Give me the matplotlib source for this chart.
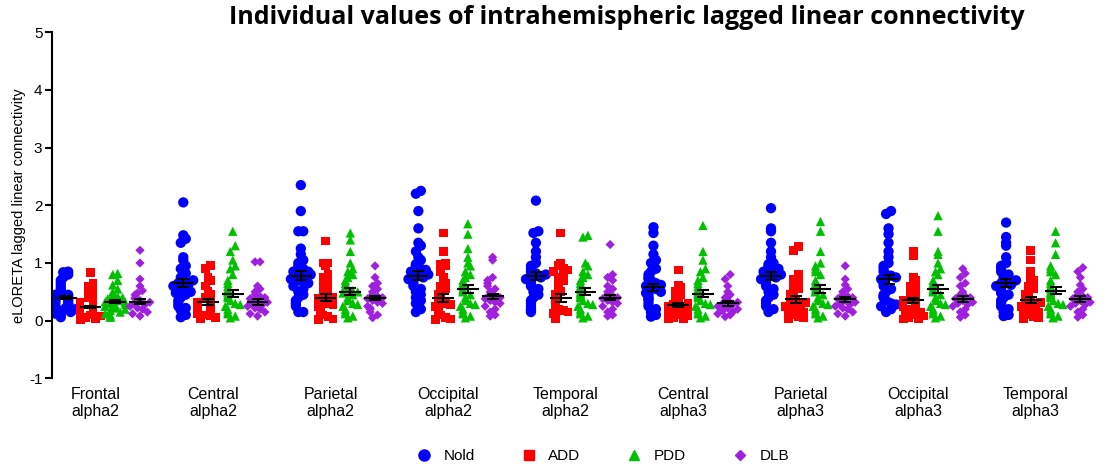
import numpy as np
import matplotlib
matplotlib.use("Agg")
import matplotlib.pyplot as plt
from matplotlib.lines import Line2D

plt.rcParams["font.family"] = ["Liberation Sans", "DejaVu Sans"]
plt.rcParams["axes.unicode_minus"] = False

groups = ["Frontal\nalpha2", "Central\nalpha2", "Parietal\nalpha2", "Occipital\nalpha2", "Temporal\nalpha2",
          "Central\nalpha3", "Parietal\nalpha3", "Occipital\nalpha3", "Temporal\nalpha3"]
series = ["Nold", "ADD", "PDD", "DLB"]

nold = [
    [0.85, 0.84, 0.8, 0.75, 0.7, 0.65, 0.6, 0.55, 0.5, 0.48, 0.45, 0.42, 0.4, 0.38, 0.36, 0.33, 0.3, 0.28, 0.25, 0.22, 0.2, 0.17, 0.15, 0.12, 0.1, 0.08, 0.06, 0.35, 0.45, 0.3],
    [2.05, 1.48, 1.42, 1.35, 1.1, 1.05, 0.95, 0.9, 0.82, 0.75, 0.7, 0.65, 0.6, 0.58, 0.55, 0.5, 0.48, 0.45, 0.4, 0.35, 0.3, 0.25, 0.22, 0.18, 0.1, 0.06, 0.62, 0.7],
    [2.35, 1.9, 1.55, 1.55, 1.25, 1.15, 1.05, 1.0, 0.95, 0.9, 0.85, 0.82, 0.8, 0.75, 0.72, 0.7, 0.65, 0.6, 0.55, 0.5, 0.45, 0.4, 0.35, 0.3, 0.25, 0.15, 0.15, 0.85, 0.68, 0.78],
    [2.25, 2.2, 1.9, 1.6, 1.35, 1.3, 1.2, 1.1, 1.05, 0.98, 0.95, 0.9, 0.85, 0.8, 0.78, 0.75, 0.7, 0.65, 0.6, 0.55, 0.5, 0.45, 0.4, 0.35, 0.3, 0.2, 0.15, 0.72, 0.82, 0.88],
    [2.08, 1.55, 1.52, 1.35, 1.2, 1.1, 1.0, 0.95, 0.9, 0.85, 0.8, 0.78, 0.75, 0.7, 0.65, 0.6, 0.55, 0.5, 0.45, 0.4, 0.35, 0.3, 0.25, 0.2, 0.18, 0.15, 0.72, 0.82],
    [1.62, 1.52, 1.3, 1.15, 1.05, 1.0, 0.9, 0.85, 0.8, 0.75, 0.7, 0.65, 0.6, 0.58, 0.55, 0.5, 0.48, 0.45, 0.4, 0.38, 0.35, 0.3, 0.25, 0.2, 0.15, 0.1, 0.07, 0.62, 0.72],
    [1.95, 1.6, 1.55, 1.35, 1.2, 1.1, 1.0, 0.98, 0.95, 0.9, 0.85, 0.8, 0.78, 0.75, 0.72, 0.7, 0.65, 0.6, 0.55, 0.5, 0.45, 0.4, 0.35, 0.3, 0.25, 0.2, 0.15, 0.82, 0.9],
    [1.9, 1.85, 1.6, 1.5, 1.35, 1.2, 1.1, 1.0, 0.95, 0.9, 0.85, 0.8, 0.75, 0.7, 0.65, 0.6, 0.55, 0.5, 0.45, 0.42, 0.4, 0.35, 0.3, 0.28, 0.25, 0.2, 0.15, 0.72, 0.78],
    [1.7, 1.45, 1.35, 1.3, 1.1, 1.0, 0.95, 0.9, 0.85, 0.8, 0.75, 0.7, 0.65, 0.6, 0.55, 0.5, 0.48, 0.45, 0.4, 0.35, 0.3, 0.25, 0.2, 0.15, 0.1, 0.08, 0.62, 0.7],
]
add = [
    [0.83, 0.65, 0.6, 0.55, 0.5, 0.45, 0.4, 0.35, 0.32, 0.3, 0.28, 0.25, 0.22, 0.2, 0.18, 0.15, 0.12, 0.1, 0.08, 0.05, 0.03, 0.02, 0.25, 0.15],
    [0.95, 0.9, 0.75, 0.7, 0.6, 0.5, 0.45, 0.4, 0.35, 0.32, 0.3, 0.28, 0.25, 0.22, 0.2, 0.18, 0.15, 0.12, 0.1, 0.08, 0.05, 0.03, 0.3, 0.2],
    [1.38, 1.0, 1.0, 0.95, 0.8, 0.75, 0.7, 0.6, 0.55, 0.5, 0.45, 0.4, 0.38, 0.35, 0.3, 0.28, 0.25, 0.2, 0.18, 0.15, 0.1, 0.07, 0.03, 0.02, 0.4],
    [1.52, 1.2, 1.0, 0.98, 0.95, 0.85, 0.75, 0.65, 0.6, 0.55, 0.5, 0.45, 0.4, 0.35, 0.3, 0.28, 0.25, 0.2, 0.18, 0.15, 0.1, 0.06, 0.03, 0.02, 0.42],
    [1.52, 1.0, 0.95, 0.9, 0.88, 0.85, 0.8, 0.75, 0.7, 0.6, 0.5, 0.45, 0.4, 0.35, 0.3, 0.25, 0.2, 0.18, 0.15, 0.12, 0.08, 0.05, 0.03, 0.4],
    [0.88, 0.62, 0.58, 0.5, 0.45, 0.4, 0.35, 0.3, 0.28, 0.25, 0.22, 0.2, 0.18, 0.15, 0.12, 0.1, 0.08, 0.06, 0.04, 0.03, 0.25],
    [1.28, 1.22, 0.8, 0.72, 0.65, 0.6, 0.55, 0.5, 0.45, 0.4, 0.35, 0.32, 0.3, 0.28, 0.25, 0.2, 0.18, 0.15, 0.12, 0.1, 0.07, 0.05, 0.03, 0.38],
    [1.2, 1.12, 0.75, 0.7, 0.6, 0.55, 0.5, 0.45, 0.4, 0.35, 0.32, 0.3, 0.28, 0.25, 0.2, 0.18, 0.15, 0.12, 0.1, 0.08, 0.06, 0.04, 0.03, 0.35],
    [1.22, 1.05, 0.85, 0.75, 0.7, 0.6, 0.55, 0.5, 0.45, 0.4, 0.35, 0.32, 0.3, 0.28, 0.25, 0.2, 0.18, 0.15, 0.12, 0.1, 0.07, 0.05, 0.03, 0.38],
]
pdd = [
    [0.82, 0.8, 0.7, 0.62, 0.55, 0.5, 0.45, 0.42, 0.4, 0.38, 0.35, 0.32, 0.3, 0.28, 0.25, 0.22, 0.2, 0.18, 0.15, 0.12, 0.1, 0.08, 0.06, 0.33, 0.27],
    [1.55, 1.3, 1.2, 1.05, 0.95, 0.9, 0.8, 0.7, 0.65, 0.6, 0.55, 0.5, 0.45, 0.42, 0.4, 0.35, 0.3, 0.28, 0.25, 0.2, 0.15, 0.12, 0.08, 0.05, 0.5],
    [1.52, 1.4, 1.2, 1.0, 0.9, 0.85, 0.8, 0.75, 0.7, 0.65, 0.6, 0.55, 0.5, 0.48, 0.45, 0.4, 0.35, 0.3, 0.28, 0.25, 0.2, 0.15, 0.12, 0.08, 0.05, 0.52],
    [1.68, 1.5, 1.25, 1.1, 1.0, 0.95, 0.85, 0.8, 0.75, 0.7, 0.65, 0.6, 0.55, 0.52, 0.5, 0.45, 0.4, 0.35, 0.3, 0.28, 0.25, 0.2, 0.15, 0.12, 0.08, 0.05],
    [1.48, 1.45, 1.0, 0.95, 0.85, 0.8, 0.75, 0.7, 0.65, 0.6, 0.55, 0.5, 0.48, 0.45, 0.42, 0.4, 0.35, 0.3, 0.28, 0.25, 0.2, 0.15, 0.12, 0.08, 0.05],
    [1.65, 1.2, 1.05, 0.9, 0.85, 0.75, 0.7, 0.65, 0.6, 0.55, 0.5, 0.48, 0.45, 0.42, 0.4, 0.35, 0.3, 0.28, 0.25, 0.2, 0.15, 0.12, 0.08, 0.05],
    [1.72, 1.55, 1.2, 1.0, 0.95, 0.9, 0.85, 0.8, 0.7, 0.65, 0.6, 0.55, 0.52, 0.5, 0.45, 0.4, 0.35, 0.3, 0.28, 0.25, 0.2, 0.15, 0.12, 0.08, 0.05],
    [1.82, 1.55, 1.2, 1.15, 1.0, 0.9, 0.85, 0.8, 0.7, 0.65, 0.6, 0.55, 0.52, 0.5, 0.45, 0.4, 0.35, 0.3, 0.28, 0.25, 0.2, 0.15, 0.12, 0.08, 0.05],
    [1.55, 1.35, 1.15, 0.95, 0.9, 0.85, 0.8, 0.7, 0.65, 0.6, 0.55, 0.5, 0.48, 0.45, 0.42, 0.4, 0.35, 0.3, 0.28, 0.25, 0.2, 0.15, 0.12, 0.08, 0.05],
]
dlb = [
    [1.22, 1.0, 0.72, 0.6, 0.52, 0.48, 0.45, 0.4, 0.38, 0.35, 0.32, 0.3, 0.28, 0.25, 0.22, 0.2, 0.15, 0.12, 0.08],
    [1.02, 1.02, 0.6, 0.55, 0.5, 0.45, 0.42, 0.4, 0.38, 0.35, 0.32, 0.3, 0.28, 0.25, 0.22, 0.2, 0.15, 0.12, 0.08],
    [0.95, 0.75, 0.65, 0.6, 0.55, 0.5, 0.45, 0.42, 0.4, 0.38, 0.35, 0.32, 0.3, 0.25, 0.22, 0.2, 0.15, 0.1, 0.05],
    [1.1, 1.05, 0.75, 0.7, 0.65, 0.6, 0.55, 0.5, 0.45, 0.42, 0.4, 0.38, 0.35, 0.32, 0.3, 0.25, 0.2, 0.15, 0.1, 0.08],
    [1.32, 0.8, 0.75, 0.7, 0.6, 0.55, 0.5, 0.45, 0.42, 0.4, 0.38, 0.35, 0.32, 0.3, 0.25, 0.2, 0.15, 0.1, 0.08],
    [0.8, 0.72, 0.6, 0.5, 0.45, 0.4, 0.35, 0.32, 0.3, 0.28, 0.25, 0.22, 0.2, 0.18, 0.15, 0.12, 0.1, 0.07],
    [0.95, 0.72, 0.62, 0.55, 0.5, 0.45, 0.42, 0.4, 0.38, 0.35, 0.32, 0.3, 0.28, 0.25, 0.22, 0.2, 0.15, 0.12, 0.08],
    [0.9, 0.82, 0.75, 0.65, 0.6, 0.5, 0.45, 0.42, 0.4, 0.38, 0.35, 0.32, 0.3, 0.28, 0.25, 0.2, 0.15, 0.1, 0.06],
    [0.92, 0.85, 0.75, 0.62, 0.55, 0.5, 0.45, 0.42, 0.4, 0.38, 0.35, 0.32, 0.3, 0.28, 0.25, 0.2, 0.15, 0.1, 0.06],
]
means = [
    [0.40, 0.24, 0.33, 0.33], [0.65, 0.32, 0.47, 0.33], [0.78, 0.40, 0.50, 0.39],
    [0.78, 0.40, 0.55, 0.42], [0.78, 0.40, 0.50, 0.40], [0.58, 0.27, 0.47, 0.30],
    [0.78, 0.37, 0.55, 0.37], [0.72, 0.35, 0.55, 0.37], [0.65, 0.36, 0.52, 0.37],
]
sems = [
    [0.03, 0.02, 0.03, 0.04], [0.07, 0.05, 0.06, 0.05], [0.08, 0.06, 0.06, 0.04],
    [0.08, 0.07, 0.07, 0.05], [0.07, 0.07, 0.06, 0.05], [0.06, 0.04, 0.06, 0.04],
    [0.07, 0.06, 0.07, 0.04], [0.08, 0.05, 0.07, 0.05], [0.07, 0.05, 0.06, 0.05],
]

colors = ["#0000ff", "#ff0000", "#00c000", "#a020e0"]
markers = ["o", "s", "^", "D"]
msizes = [55, 40, 45, 22]
data = [nold, add, pdd, dlb]

def swarm_offsets(vals, binw=0.12, step=0.2):
    # simple deterministic beeswarm: spread points that share a value bin
    vals = np.asarray(vals)
    order = np.argsort(vals)
    offs = np.zeros(len(vals))
    bins = np.floor(vals / binw).astype(int)
    for b in np.unique(bins):
        idx = [i for i in order if bins[i] == b]
        n = len(idx)
        pos = (np.arange(n) - (n - 1) / 2) * step
        pos = np.clip(pos, -0.42, 0.42)
        for k, i in enumerate(idx):
            offs[i] = pos[(k * 3) % n] if n > 1 else 0
    return offs

fig = plt.figure(figsize=(11.09, 4.73), dpi=100)
ax = fig.add_axes([0.047, 0.2, 0.945, 0.732])
stride = 4.75
for g in range(len(groups)):
    for s in range(4):
        x0 = g * stride + s
        vals = data[s][g]
        ax.scatter(x0 + swarm_offsets(vals), vals, s=msizes[s], marker=markers[s],
                   color=colors[s], edgecolors="none", zorder=2)
        m, e = means[g][s], sems[g][s]
        ax.plot([x0 - 0.4, x0 + 0.4], [m, m], color="black", lw=1.5, zorder=3)
        ax.errorbar(x0, m, yerr=e, color="black", capsize=4, lw=1.5, capthick=1.5, zorder=3)

ax.set_ylim(-1, 5)
ax.set_xlim(-0.55, (len(groups) - 1) * stride + 3.8)
ax.set_yticks(range(-1, 6))
ax.tick_params(axis="y", labelsize=11, width=1.5, length=5, pad=2)
ax.set_xticks([g * stride + 1.2 for g in range(len(groups))])
ax.set_xticklabels(groups, fontsize=11.5)
ax.tick_params(axis="x", length=0, pad=6)
for sp in ["top", "right", "bottom"]:
    ax.spines[sp].set_visible(False)
ax.spines["left"].set_linewidth(1.5)
ax.set_ylabel("eLORETA lagged linear connectivity", fontsize=10.5, labelpad=2)
fig.text(0.565, 0.962, "Individual values of intrahemispheric lagged linear connectivity",
         ha="center", va="center", fontsize=18, fontweight="bold",
         family=["Open Sans", "DejaVu Sans"])

handles = [Line2D([], [], marker=markers[i], color=colors[i], ls="none",
                  markersize=[8, 7, 7, 5][i]) for i in range(4)]
fig.legend(handles, series, loc="center", bbox_to_anchor=(0.54, 0.035), ncol=4,
           frameon=False, fontsize=11, handletextpad=0.3, columnspacing=2.5)
fig.savefig("out.png", dpi=100)
